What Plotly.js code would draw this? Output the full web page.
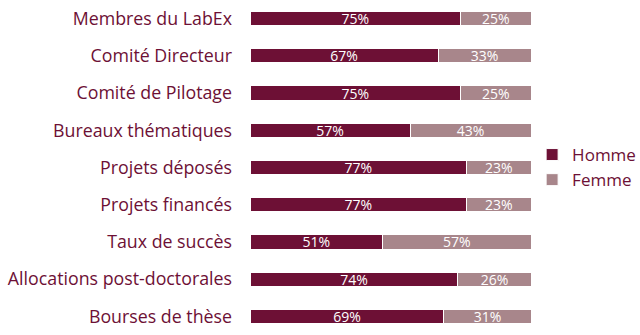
<!DOCTYPE html>
<html>
<head>
<meta charset="utf-8">
<script src="https://cdn.plot.ly/plotly-3.0.1.min.js"></script>
<style>html,body{margin:0;padding:0;background:#fff;}#chart{width:640px;height:335px;}</style>
</head>
<body>
<div id="chart"></div>
<script>
const categories = ["Membres du LabEx","Comité Directeur","Comité de Pilotage","Bureaux thématiques","Projets déposés","Projets financés","Taux de succès","Allocations post-doctorales","Bourses de thèse"];
const homme = [75,67,75,57,77,77,51,74,69];
const femme = [25,33,25,43,23,23,57,26,31];
const seriesNames = ["Homme","Femme"];
const colHomme = "#6d1035";
const colFemme = "#a8868b";
const txtCol = "#6d1035";

const mk = (vals, name, color) => ({
  type: "bar", orientation: "h", name: name,
  y: categories, x: vals,
  text: vals.map(v => v + "%"),
  textposition: "inside", insidetextanchor: "middle", constraintext: "none",
  textfont: {family: "Open Sans", size: 14, color: "#ffffff"},
  marker: {color: color, line: {color: "#ffffff", width: 1}},
  hoverinfo: "skip"
});

const data = [mk(homme, seriesNames[0], colHomme), mk(femme, seriesNames[1], colFemme)];
const layout = {
  width: 640, height: 335,
  margin: {l: 250, r: 109, t: 0, b: 0, autoexpand: false},
  barmode: "stack", barnorm: "percent", bargap: 0.62,
  paper_bgcolor: "#fff", plot_bgcolor: "#fff",
  font: {family: "Open Sans", color: txtCol},
  xaxis: {range: [0, 100], visible: false, fixedrange: true},
  yaxis: {autorange: "reversed", showgrid: false, zeroline: false, showline: false, automargin: false,
          ticks: "", ticklabelstandoff: 17, tickfont: {family: "Open Sans", size: 17.8, color: txtCol}},
  showlegend: true,
  legend: {x: 1.004, xanchor: "left", y: 0.5, yanchor: "middle", traceorder: "normal",
           font: {family: "Open Sans", size: 17, color: txtCol}, tracegroupgap: 0, itemwidth: 30}
};
Plotly.newPlot("chart", data, layout, {displayModeBar: false, staticPlot: true});
</script>
</body>
</html>
